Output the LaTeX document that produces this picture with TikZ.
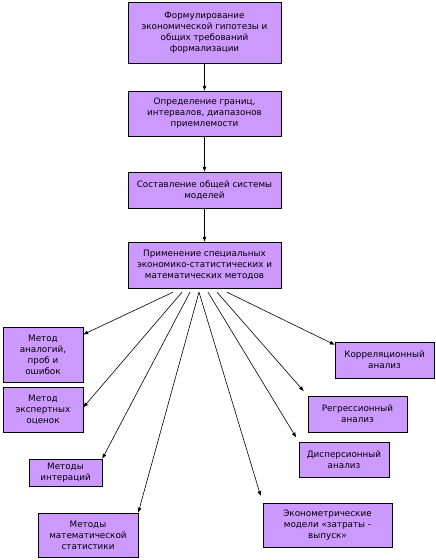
\documentclass[tikz,border=0pt]{standalone}
\usepackage{fontspec}
\setmainfont{DejaVu Sans}
\usetikzlibrary{arrows.meta}
\definecolor{boxviolet}{HTML}{CC99FF}
\tikzset{
    >={Latex[length=5pt,width=4pt]},
    font={\fontsize{8.8pt}{11pt}\selectfont},
}

\begin{document}
\begin{tikzpicture}[x=1pt,y=-1pt]
\tikzstyle{stage} = [rectangle, draw, fill=boxviolet, minimum width=153pt, align=center, inner sep=0pt]
\tikzstyle{method} = [rectangle, draw, fill=boxviolet, align=center, inner sep=0pt]
\tikzstyle{link} = [draw, ->, line width=0.6pt]

\useasboundingbox (0,0) rectangle (436,560);

% Stages
\node[stage, minimum height=61pt] (form) at (204.5,32.5) {Формулирование\\экономической гипотезы и\\общих требований\\формализации};
\node[stage, minimum height=45pt] (bounds) at (204.5,113.5) {Определение границ,\\интервалов, диапазонов\\приемлемости};
\node[stage, minimum height=36pt] (system) at (204.5,190) {Составление общей системы\\моделей};
\node[stage, minimum height=46pt] (apply) at (204.5,265) {Применение специальных\\экономико-статистических и\\математических методов};

% Methods
\node[method, minimum width=80pt, minimum height=55pt] (analog) at (43,354.5) {Метод\\аналогий,\\проб и\\ошибок};
\node[method, minimum width=80pt, minimum height=45pt] (expert) at (43,409.5) {Метод\\экспертных\\оценок};
\node[method, minimum width=73pt, minimum height=27pt] (iter) at (65.5,472.5) {Методы\\интераций};
\node[method, minimum width=100pt, minimum height=44pt] (stat) at (88,535) {Методы\\математической\\статистики};
\node[method, minimum width=99pt, minimum height=36pt] (corr) at (384.5,360) {Корреляционный\\анализ};
\node[method, minimum width=99pt, minimum height=36pt] (regr) at (357.5,414) {Регрессионный\\анализ};
\node[method, minimum width=90pt, minimum height=35pt] (disp) at (344,459.5) {Дисперсионный\\анализ};
\node[method, minimum width=129pt, minimum height=44pt] (econ) at (327.5,525) {Эконометрические\\модели «затраты -\\выпуск»};

% Main chain
\draw[link] (form) -- (bounds);
\draw[link] (bounds) -- (system);
\draw[link] (system) -- (apply);

% Fan of methods
\draw[link] ([xshift=-31.5pt,yshift=-4pt]apply.south) -- ([yshift=20pt]analog.east);
\draw[link] ([xshift=-22.5pt,yshift=-4pt]apply.south) -- ([yshift=2pt]expert.east);
\draw[link] ([xshift=-14.5pt,yshift=-4pt]apply.south) -- (iter.north east);
\draw[link] ([xshift=-5.5pt,yshift=-4pt]apply.south) -- (stat.north east);
\draw[link, shorten >=7pt] ([xshift=-5.5pt,yshift=-4pt]apply.south) -- (econ.north west);
\draw[link, shorten >=5pt] ([xshift=3.5pt,yshift=-4pt]apply.south) -- (disp.north west);
\draw[link, shorten >=6pt] ([xshift=12.5pt,yshift=-4pt]apply.south) -- (regr.north west);
\draw[link] ([xshift=22.5pt,yshift=-4pt]apply.south) -- ([yshift=-3pt]corr.north west);
\end{tikzpicture}
\end{document}
